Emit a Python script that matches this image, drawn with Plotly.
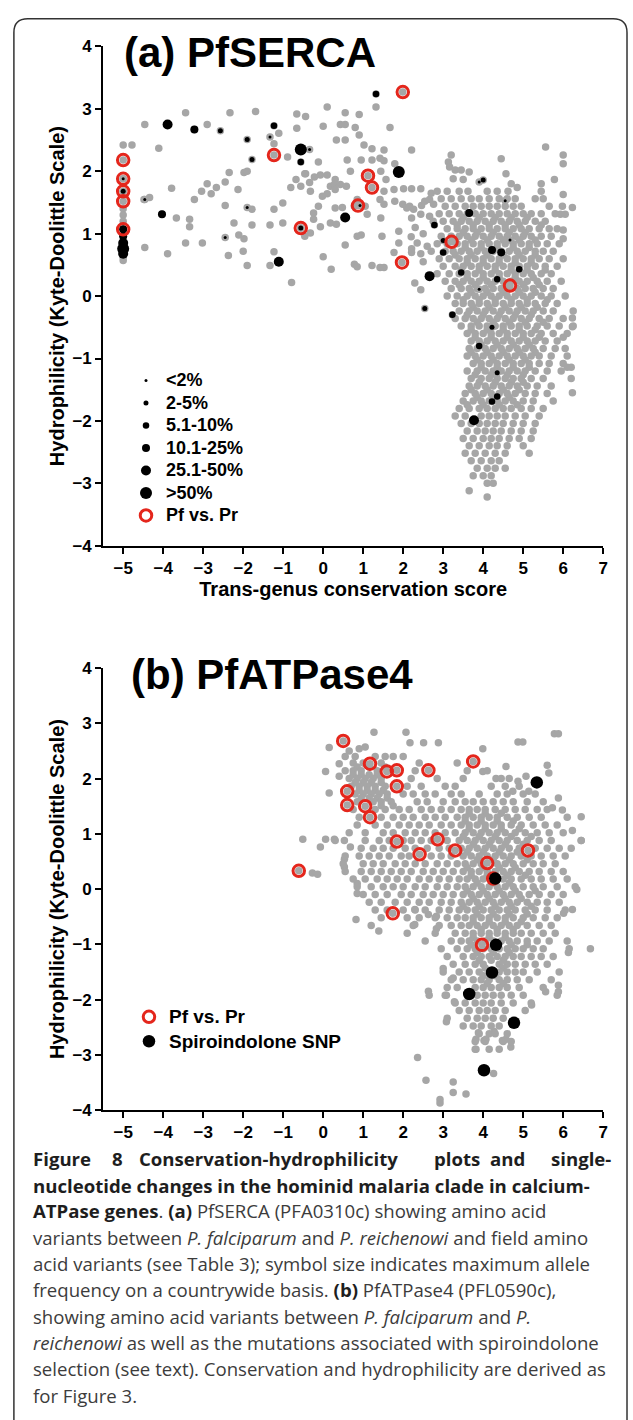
import plotly.graph_objects as go

W, H = 633, 1420
FONT = "Liberation Sans, Arial, sans-serif"
CAP = "Open Sans, Noto Sans, sans-serif"
GRAY = "#a6a6a6"
RED = "#e4261c"

# ---------------- Panel (a) PfSERCA ----------------
# scattered background residues (conservation, hydrophilicity)
a_bg_x = [-5.0, -4.78, -5.0, -5.0, -5.0, -5.0, -5.0,
          -4.46, -4.11, -4.48, -4.34, -3.79, -3.67, -3.34, -3.34, -3.44, -3.02, -4.46, -3.89, -3.44, -2.90,
          -2.33, -1.69, -0.66, -0.44, -1.11, -1.23, -0.66, -0.89, -0.44, -0.68, -0.81, -0.56, -0.34, -2.35,
          -1.98, -1.90, -2.45, -2.13, -2.90, -2.67, -2.80, -3.04, -3.22, -2.45, -1.78, -1.23, -1.01, -2.23,
          -1.78, -1.33, -1.01, -2.11, -1.98, -2.37, -2.00, -1.90, -1.33, -1.23, -0.79, -0.24,
          0.10, 1.32, 0.55, 0.90, 0.43, 0.55, 0.80, 0.00, 1.67, 0.90, 0.33, 0.55, 1.02, 1.22, 1.42, 1.52,
          2.21, -0.12, 0.60, 0.95, 1.22, 1.52, 1.79, -0.46, -0.22, -0.07, 0.10, 0.68, 0.30, 1.44, 1.57,
          0.18, 0.28, 0.43, 0.58, -0.02, 0.10, 0.30, -0.32, 1.52, 1.42, 1.52, 1.77, 2.01, 2.21, 2.44, 1.79,
          1.99, 2.09, -0.12, -0.24, 0.30, 0.48, 0.33, 0.18, -0.07, -0.32, -0.46, 0.85, 0.78, 1.05, 1.44,
          1.10, 0.95, 0.85, 0.55, 0.00, 0.20, 0.78, 0.85, 1.22, 1.42, 1.52, 1.47, 1.89, 1.77, 2.21, 2.44,
          2.21, 1.89, 2.16, 2.26, 2.46, 2.54, 2.66, 2.76, 2.21, 2.44, 2.66, 2.29, 2.44, 3.13, 3.20, 3.16,
          3.30, 3.45, 3.65, 3.25, 3.50, 4.45, 4.57, 5.56, 6.00, 6.00, 5.78, 6.00, 6.23, 5.98, 5.93, 6.05,
          6.00, 6.00, 2.30, 2.50, 2.60, 2.75, 2.50, 2.20, 2.70, 2.35, 6.23, 6.23, 6.20, 6.10, 6.23, 6.00,
          4.70, 4.85, 5.45]
a_bg_y = [2.42, 2.42, 1.40, 1.30, 1.20, 0.57, 0.62,
          2.75, 2.37, 1.55, 1.58, 1.73, 1.25, 1.23, 1.11, 0.85, 0.85, 0.78, 0.68, 2.94, 2.75,
          2.94, 2.96, 2.92, 2.88, 2.61, 2.44, 2.69, 2.23, 1.96, 1.87, 1.74, 1.76, 1.82, 1.98,
          1.98, 2.00, 1.83, 1.71, 1.80, 1.74, 1.64, 1.68, 1.55, 1.45, 1.39, 1.39, 1.49, 1.17,
          1.14, 1.14, 1.17, 0.98, 0.92, 0.65, 0.72, 0.49, 0.49, 0.71, 0.22, 1.23,
          3.03, 3.03, 2.94, 2.91, 2.75, 2.75, 2.70, 2.72, 2.70, 2.58, 2.50, 2.50, 2.42, 2.36, 2.21, 2.34,
          2.34, 2.15, 2.18, 2.18, 2.18, 2.17, 2.12, 1.96, 1.91, 1.94, 1.94, 2.00, 1.87, 2.00, 1.87,
          1.76, 1.79, 1.79, 1.76, 1.60, 1.64, 1.71, 1.68, 1.68, 1.55, 1.47, 1.71, 1.72, 1.72, 1.72, 1.52,
          1.47, 1.41, 1.44, 1.33, 1.41, 1.42, 1.15, 1.17, 1.11, 1.01, 0.96, 1.55, 1.44, 1.44, 1.25,
          1.31, 0.98, 0.96, 0.82, 0.63, 0.43, 0.51, 0.47, 0.49, 0.46, 0.46, 0.96, 1.04, 0.70, 0.76, 0.68,
          0.70, 0.85, 1.44, 1.39, 1.45, 1.52, 1.55, 1.47, 1.25, 1.31, 1.28, 0.21, 0.10, 2.15, 2.26, 2.07,
          2.02, 2.02, 1.99, 1.88, 1.87, 2.20, 1.96, 2.39, 2.26, 2.12, 1.87, 1.63, 1.42, 1.44, 1.31, 1.31,
          1.06, 0.92, 1.10, 1.00, 0.80, 1.20, 0.55, 0.95, 1.65, 0.85, -0.35, -0.49, -1.14, -1.14, -1.55, -0.66,
          1.80, 1.74, 1.80]

# dense cluster of conserved residues, read row by row: (hydrophilicity, [conservation scores])
a_rows = [
    (1.68, [2.85, 3.1, 3.4, 3.62, 4.1, 4.35, 4.62, 5.45]),
    (1.56, [2.95, 3.2, 3.45, 3.7, 3.9, 4.15, 4.4, 4.6, 4.8, 5.3, 5.5]),
    (1.44, [3.05, 3.3, 3.55, 3.75, 3.95, 4.15, 4.35, 4.55, 4.75, 4.95, 5.65]),
    (1.32, [2.9, 3.15, 3.4, 3.6, 3.8, 4.0, 4.2, 4.4, 4.6, 4.8, 5.0, 5.2, 5.45, 5.8]),
    (1.26, [3.5, 3.9, 4.3, 4.7, 5.1]),
    (1.20, [3.0, 3.25, 3.45, 3.65, 3.85, 4.05, 4.25, 4.45, 4.65, 4.85, 5.05, 5.3, 5.55]),
    (1.14, [3.35, 3.75, 4.15, 4.55, 4.9, 5.45]),
    (1.08, [3.1, 3.35, 3.55, 3.75, 3.95, 4.15, 4.35, 4.55, 4.75, 4.95, 5.15, 5.4, 5.65, 5.85]),
    (1.02, [3.5, 3.85, 4.25, 4.65, 5.05]),
    (0.96, [2.95, 3.2, 3.4, 3.6, 3.8, 4.0, 4.2, 4.4, 4.6, 4.8, 5.0, 5.2, 5.45, 5.7]),
    (0.90, [3.3, 3.7, 4.1, 4.5, 4.9, 5.3]),
    (0.84, [2.85, 3.1, 3.35, 3.55, 3.75, 3.95, 4.15, 4.35, 4.55, 4.75, 4.95, 5.15, 5.35, 5.6, 5.9]),
    (0.78, [3.55, 3.95, 4.35, 4.75, 5.15]),
    (0.72, [2.7, 3.05, 3.25, 3.45, 3.65, 3.85, 4.05, 4.25, 4.45, 4.65, 4.85, 5.05, 5.3, 5.5, 5.75]),
    (0.66, [3.3, 3.7, 4.1, 4.5, 4.9, 5.3]),
    (0.60, [2.9, 3.15, 3.4, 3.6, 3.8, 4.0, 4.2, 4.4, 4.6, 4.8, 5.0, 5.2, 5.4, 5.65, 6.0]),
    (0.54, [3.6, 4.0, 4.4, 4.8, 5.2]),
    (0.48, [3.0, 3.3, 3.5, 3.7, 3.9, 4.1, 4.3, 4.5, 4.7, 4.9, 5.1, 5.3, 5.55, 5.85]),
    (0.42, [3.45, 3.9, 4.3, 4.7, 5.1, 5.55]),
    (0.36, [2.85, 3.15, 3.4, 3.6, 3.8, 4.0, 4.2, 4.4, 4.6, 4.8, 5.0, 5.2, 5.45, 5.7]),
    (0.30, [3.6, 4.0, 4.4, 4.8, 5.25]),
    (0.24, [3.05, 3.3, 3.5, 3.7, 3.9, 4.1, 4.3, 4.5, 4.7, 4.9, 5.1, 5.35, 5.6, 5.95]),
    (0.18, [3.4, 3.8, 4.2, 4.6, 5.0, 5.4]),
    (0.12, [3.2, 3.45, 3.65, 3.85, 4.05, 4.25, 4.45, 4.65, 4.85, 5.05, 5.25, 5.5, 5.75]),
    (0.06, [3.7, 4.1, 4.5, 4.9, 5.3]),
    (0.00, [3.1, 3.35, 3.6, 3.8, 4.0, 4.2, 4.4, 4.6, 4.8, 5.0, 5.2, 5.45, 5.7, 6.05]),
    (-0.06, [3.5, 3.9, 4.3, 4.7, 5.1, 5.6]),
    (-0.12, [3.3, 3.5, 3.7, 3.9, 4.1, 4.3, 4.5, 4.7, 4.9, 5.1, 5.3, 5.55, 5.85]),
    (-0.18, [3.75, 4.15, 4.55, 4.95, 5.35]),
    (-0.24, [3.4, 3.65, 3.85, 4.05, 4.25, 4.45, 4.65, 4.85, 5.05, 5.25, 5.5, 5.75, 6.25]),
    (-0.30, [3.6, 4.0, 4.4, 4.8, 5.2]),
    (-0.36, [3.3, 3.55, 3.75, 3.95, 4.15, 4.35, 4.55, 4.75, 4.95, 5.15, 5.4, 5.65, 6.0]),
    (-0.42, [3.85, 4.25, 4.65, 5.05, 5.5]),
    (-0.48, [3.45, 3.7, 3.9, 4.1, 4.3, 4.5, 4.7, 4.9, 5.1, 5.35, 5.6, 5.9, 6.25]),
    (-0.54, [3.7, 4.1, 4.5, 4.9, 5.3]),
    (-0.60, [3.6, 3.8, 4.0, 4.2, 4.4, 4.6, 4.8, 5.0, 5.2, 5.45, 5.75, 6.1]),
    (-0.66, [3.8, 4.2, 4.6, 5.0, 5.4]),
    (-0.72, [3.7, 3.9, 4.1, 4.3, 4.5, 4.7, 4.9, 5.1, 5.3, 5.55, 5.85]),
    (-0.78, [3.95, 4.35, 4.75, 5.15]),
    (-0.84, [3.65, 3.85, 4.05, 4.25, 4.45, 4.65, 4.85, 5.05, 5.25, 5.5, 5.8, 6.05]),
    (-0.90, [3.7, 4.1, 4.5, 4.9, 5.3]),
    (-0.96, [3.6, 3.8, 4.0, 4.2, 4.4, 4.6, 4.8, 5.0, 5.2, 5.4, 5.7, 6.1]),
    (-1.02, [3.85, 4.25, 4.65, 5.05]),
    (-1.08, [3.75, 3.95, 4.15, 4.35, 4.55, 4.75, 4.95, 5.15, 5.4, 5.65, 6.0]),
    (-1.14, [3.95, 4.35, 4.75, 5.15]),
    (-1.20, [3.6, 3.85, 4.05, 4.25, 4.45, 4.65, 4.85, 5.05, 5.3, 5.6, 5.95]),
    (-1.26, [3.8, 4.2, 4.6, 5.0]),
    (-1.32, [3.7, 3.95, 4.15, 4.35, 4.55, 4.75, 4.95, 5.2, 5.5, 6.2]),
    (-1.38, [3.9, 4.3, 4.7, 5.0]),
    (-1.44, [3.65, 3.85, 4.05, 4.25, 4.45, 4.65, 4.85, 5.1, 5.35, 5.7]),
    (-1.50, [3.7, 4.1, 4.5, 4.9]),
    (-1.56, [3.55, 3.8, 4.0, 4.2, 4.4, 4.6, 4.8, 5.05, 5.3, 5.6]),
    (-1.62, [3.85, 4.25, 4.65]),
    (-1.68, [3.5, 3.75, 3.95, 4.15, 4.35, 4.55, 4.75, 5.0, 5.25, 5.75]),
    (-1.74, [3.6, 4.0, 4.4, 4.85]),
    (-1.80, [3.4, 3.65, 3.9, 4.1, 4.3, 4.5, 4.7, 4.95, 5.2, 5.5]),
    (-1.92, [3.3, 3.55, 3.95, 4.15, 4.35, 4.55, 4.8, 5.05, 5.4]),
    (-2.04, [3.45, 3.7, 3.9, 4.1, 4.3, 4.5, 4.75, 5.0, 5.3]),
    (-2.16, [3.6, 3.85, 4.05, 4.25, 4.45, 4.7, 4.95, 5.25]),
    (-2.28, [3.5, 3.75, 4.0, 4.2, 4.4, 4.65, 4.9, 5.2]),
    (-2.40, [3.65, 3.9, 4.15, 4.35, 4.6, 5.0]),
    (-2.52, [3.55, 3.8, 4.05, 4.3, 4.55, 5.15]),
    (-2.64, [3.7, 3.95, 4.2, 4.4]),
    (-2.76, [3.85, 4.1, 4.3, 4.55]),
    (-2.88, [3.75, 4.0, 4.2]),
    (-3.00, [4.1, 4.25]),
    (-3.12, [3.65]),
    (-3.22, [4.1]),
]

# field amino acid variants, with maximum countrywide allele frequency class
a_snp_x = [-5.0, -5.0, -5.0, -5.0, -5.0, -5.0, -5.0,
           -3.89, -3.22, -2.57, -1.90, -1.23, -1.33, -1.78, -0.56, -0.34, -0.56, -4.03, -4.46, -1.90,
           -2.45, -1.11, -0.56,
           1.32, 1.89, 0.55, 0.92, 3.90, 4.00, 3.65, 2.78, 3.00, 3.00, 4.22, 4.45, 4.67, 4.55, 3.45,
           2.66, 4.35, 4.90, 3.90, 2.54, 3.23, 4.22, 3.90, 4.35, 4.35, 4.22, 3.77]
a_snp_y = [1.88, 1.68, 1.07, 0.96, 0.85, 0.76, 0.68,
           2.75, 2.67, 2.65, 2.51, 2.73, 2.55, 2.19, 2.35, 2.35, 2.15, 1.31, 1.55, 1.42,
           0.94, 0.55, 1.09,
           3.24, 1.99, 1.26, 1.45, 1.83, 1.86, 1.33, 1.14, 0.89, 0.70, 0.74, 0.70, 0.90, 1.53, 0.38,
           0.32, 0.27, 0.43, 0.11, -0.20, -0.30, -0.50, -0.80, -1.23, -1.61, -1.69, -1.99]
a_snp_freq = ["<2%", "2-5%", "10.1-25%", "10.1-25%", "25.1-50%", ">50%", "25.1-50%",
              "25.1-50%", "10.1-25%", "2-5%", "2-5%", "5.1-10%", "<2%", "2-5%", ">50%", "<2%", "5.1-10%",
              "10.1-25%", "<2%", "<2%",
              "<2%", "25.1-50%", "2-5%",
              "5.1-10%", ">50%", "25.1-50%", "<2%", "<2%", "2-5%", "10.1-25%", "5.1-10%", "2-5%",
              "5.1-10%", "10.1-25%", "10.1-25%", "<2%", "<2%", "5.1-10%",
              "25.1-50%", "5.1-10%", "5.1-10%", "<2%", "2-5%", "5.1-10%", "2-5%", "5.1-10%", "2-5%",
              "5.1-10%", "5.1-10%", "25.1-50%"]
freq_classes = ["<2%", "2-5%", "5.1-10%", "10.1-25%", "25.1-50%", ">50%"]

# P. falciparum vs P. reichenowi differences
a_pfpr_x = [-5.0, -5.0, -5.0, -5.0, -5.0, -1.23, -0.56, 1.99, 1.12, 1.22, 0.87, 1.97, 3.21, 4.67]
a_pfpr_y = [2.18, 1.88, 1.68, 1.52, 1.07, 2.26, 1.09, 3.27, 1.93, 1.74, 1.45, 0.54, 0.87, 0.17]

# ---------------- Panel (b) PfATPase4 ----------------
b_bg_x = [0.15, 0.65, 0.90, 1.05, 1.27, 2.07, 2.17, 2.51, 2.88, 3.99, 4.87, 4.99, 5.78, 5.88, 0.40,
          0.06, 0.40, 0.15, 5.60, 5.64, 3.99, 4.32, 4.57, 4.87, 5.07, 5.14, 4.74, 5.88, 5.73, 5.98,
          6.45, 6.23, 6.45, 6.34, -0.51, -0.27, -0.14, -0.07, 0.06, 0.28, 0.53, 0.68, 0.53, 0.53,
          0.85, 0.85, 0.82, 1.39, 2.29, 2.29, 2.63, 2.83, 2.83, 2.63, 3.08, 3.00, 3.25, 3.28, 3.08,
          5.21, 5.56, 5.88, 5.88, 6.68, 6.13, 6.23, 6.01, 2.36, 2.57, 3.25, 3.25, 3.57, 2.92, 2.92,
          4.26, 4.00, 3.82, 4.02, 4.48, 4.69, 3.82, 3.88, 4.07, 4.27, 4.57]
b_bg_y = [2.56, 2.50, 2.54, 2.57, 2.84, 2.84, 2.65, 2.65, 2.65, 2.54, 2.66, 2.66, 2.81, 2.81, 2.27,
          2.13, 2.04, 1.74, 2.24, 2.10, 2.13, 2.00, 2.22, 1.95, 2.04, 1.77, 1.77, 1.65, 1.47, 1.43,
          1.31, 1.06, 0.88, -0.01, 0.90, 0.29, 0.27, 0.76, 0.90, 0.90, 0.88, 0.76, 0.54, 0.40,
          0.10, -0.08, -0.55, -0.76, -0.37, -0.64, -0.46, -0.49, -0.72, -1.85, -2.40, -1.44, -1.61, -2.04, -1.92,
          -2.10, -1.86, -1.74, -1.86, -1.08, -1.15, -0.37, -0.44, -3.05, -3.46, -3.49, -3.68, -3.71, -3.81, -3.87,
          -3.34, -3.30, -2.72, -2.74, -2.74, -2.86, -2.90, -2.60, -2.72, -2.58, -2.72]

b_rows = [
    (2.40, [0.55, 0.8, 1.3, 1.55, 1.75, 2.0]),
    (2.28, [0.75, 1.0, 1.45, 2.4, 3.35]),
    (2.21, [0.85, 1.15, 1.55]),
    (2.14, [0.55, 0.75, 0.95, 1.35, 2.3, 3.6, 4.1]),
    (2.07, [0.75, 0.95, 1.15, 1.35]),
    (2.00, [0.65, 0.85, 1.05, 1.25, 1.45, 2.2, 2.85, 3.5, 4.45, 4.65]),
    (1.93, [0.8, 1.0, 1.2, 1.45]),
    (1.86, [0.7, 0.9, 1.1, 1.3, 1.55, 2.1, 2.45, 3.05, 3.3, 4.2, 4.55, 4.9]),
    (1.79, [0.9, 1.1, 1.3, 1.5]),
    (1.72, [0.8, 1.0, 1.2, 1.4, 1.6, 2.0, 2.25, 2.55, 2.8, 3.2, 3.45, 3.9, 4.35, 4.6, 5.0, 5.3]),
    (1.65, [0.95, 1.15, 1.35, 1.6]),
    (1.58, [0.85, 1.25, 1.45, 1.7, 2.35, 2.6, 3.0, 3.3, 3.55, 3.75, 4.0, 4.25, 4.5, 4.75, 5.1, 5.5]),
    (1.51, [1.45, 1.75]),
    (1.44, [0.75, 1.3, 1.55, 1.9, 2.15, 2.45, 2.7, 2.95, 3.2, 3.45, 3.65, 3.85, 4.05, 4.3, 4.55, 4.8, 5.05, 5.35, 5.6]),
    (1.37, [3.65, 4.05, 4.45]),
    (1.30, [0.9, 1.45, 1.75, 2.0, 2.25, 2.55, 2.8, 3.05, 3.35, 3.55, 3.75, 3.95, 4.15, 4.35, 4.6, 4.85, 5.15, 5.45, 6.1]),
    (1.23, [3.55, 3.95, 4.35, 4.75]),
    (1.16, [0.85, 1.3, 1.6, 1.9, 2.15, 2.4, 2.65, 2.95, 3.2, 3.45, 3.65, 3.85, 4.05, 4.25, 4.45, 4.7, 4.95, 5.25, 5.55, 5.85]),
    (1.09, [3.65, 4.05, 4.45, 4.9]),
    (1.02, [0.65, 1.05, 1.5, 1.75, 2.05, 2.3, 2.55, 2.8, 3.05, 3.3, 3.55, 3.75, 3.95, 4.15, 4.35, 4.55, 4.8, 5.05, 5.35, 5.65, 6.0]),
    (0.95, [3.5, 3.9, 4.3, 4.7, 5.2]),
    (0.88, [0.3, 1.05, 1.4, 1.65, 2.0, 2.2, 2.45, 2.7, 3.1, 3.4, 3.6, 3.8, 4.0, 4.2, 4.4, 4.6, 4.85, 5.1, 5.4, 5.7, 6.45]),
    (0.81, [3.75, 4.15, 4.55, 5.0]),
    (0.74, [0.95, 1.25, 1.5, 1.75, 2.05, 2.3, 2.6, 2.9, 3.15, 3.45, 3.65, 3.85, 4.05, 4.25, 4.45, 4.65, 4.9, 5.3, 5.6, 5.9, 6.2]),
    (0.67, [3.6, 4.0, 4.4, 4.85]),
    (0.60, [0.55, 0.9, 1.15, 1.4, 1.65, 1.95, 2.15, 2.7, 2.95, 3.2, 3.5, 3.7, 3.9, 4.1, 4.3, 4.5, 4.7, 4.95, 5.2, 5.45, 5.75, 6.05]),
    (0.53, [3.85, 4.25, 4.65, 5.1]),
    (0.46, [0.5, 1.0, 1.25, 1.5, 1.8, 2.05, 2.3, 2.55, 2.85, 3.1, 3.35, 3.55, 3.75, 3.95, 4.35, 4.55, 4.75, 5.0, 5.25, 5.5, 5.8]),
    (0.39, [3.6, 4.0, 4.4, 4.8]),
    (0.32, [0.55, 0.95, 1.2, 1.45, 1.7, 1.95, 2.2, 2.5, 2.75, 3.0, 3.25, 3.5, 3.7, 3.9, 4.1, 4.3, 4.5, 4.7, 4.9, 5.15, 5.4, 5.7, 6.0]),
    (0.25, [3.7, 4.1, 4.6, 5.05]),
    (0.18, [0.75, 1.05, 1.35, 1.6, 1.85, 2.1, 2.4, 2.65, 2.9, 3.15, 3.4, 3.6, 3.8, 4.0, 4.5, 4.7, 4.95, 5.2, 5.45, 5.75, 6.1]),
    (0.11, [3.85, 4.25, 4.65]),
    (0.04, [0.85, 1.2, 1.5, 1.75, 2.0, 2.3, 2.55, 2.85, 3.1, 3.35, 3.55, 3.75, 3.95, 4.15, 4.35, 4.55, 4.75, 5.0, 5.25, 5.5, 5.85, 6.3]),
    (-0.03, [3.6, 4.0, 4.4, 4.8, 5.3]),
    (-0.10, [1.0, 1.3, 1.6, 1.95, 2.2, 2.5, 2.75, 3.0, 3.25, 3.5, 3.7, 3.9, 4.1, 4.3, 4.5, 4.7, 4.9, 5.15, 5.4, 5.7, 6.0]),
    (-0.17, [3.75, 4.15, 4.55, 4.95]),
    (-0.24, [1.15, 1.45, 1.8, 2.1, 2.4, 2.65, 2.95, 3.2, 3.45, 3.65, 3.85, 4.05, 4.25, 4.45, 4.65, 4.85, 5.1, 5.35, 5.6, 5.9]),
    (-0.31, [3.5, 3.9, 4.3, 4.7, 5.2]),
    (-0.38, [1.3, 1.6, 2.0, 2.3, 2.55, 2.9, 3.15, 3.4, 3.6, 3.8, 4.0, 4.2, 4.4, 4.6, 4.8, 5.05, 5.3, 5.6, 6.05]),
    (-0.45, [3.85, 4.25, 4.65, 5.1]),
    (-0.52, [1.45, 2.1, 2.4, 2.8, 3.1, 3.35, 3.55, 3.75, 3.95, 4.15, 4.35, 4.55, 4.75, 5.0, 5.25, 5.55, 5.85]),
    (-0.59, [3.75, 4.15, 4.55, 4.95]),
    (-0.66, [1.2, 2.25, 2.9, 3.2, 3.45, 3.65, 3.85, 4.05, 4.25, 4.45, 4.65, 4.85, 5.1, 5.4, 5.7]),
    (-0.73, [3.95, 4.35, 4.75]),
    (-0.80, [2.1, 2.8, 3.3, 3.55, 3.75, 3.95, 4.15, 4.35, 4.55, 4.75, 4.95, 5.2, 5.5, 5.8]),
    (-0.87, [3.75, 4.15, 4.55]),
    (-0.94, [2.55, 3.2, 3.45, 3.65, 3.85, 4.05, 4.25, 4.45, 4.65, 4.85, 5.1, 5.35, 5.65, 6.1]),
    (-1.01, [3.7, 4.7, 5.1]),
    (-1.08, [2.95, 3.35, 3.6, 3.8, 4.0, 4.2, 4.4, 4.6, 4.8, 5.0, 5.25, 5.5, 6.15]),
    (-1.15, [3.85, 4.25, 4.65]),
    (-1.22, [3.1, 3.5, 3.75, 3.95, 4.15, 4.35, 4.55, 4.75, 4.95, 5.2, 5.45, 5.75]),
    (-1.29, [3.9, 4.2, 4.5]),
    (-1.36, [3.25, 3.55, 3.8, 4.0, 4.4, 4.6, 4.8, 5.05, 5.3, 5.6]),
    (-1.43, [4.05, 4.5]),
    (-1.50, [3.0, 3.4, 3.65, 3.9, 4.4, 4.6, 4.8, 5.0, 5.35, 5.9]),
    (-1.57, [4.0, 4.3]),
    (-1.64, [3.2, 3.5, 3.75, 3.95, 4.15, 4.4, 4.6, 4.85, 5.15, 5.7]),
    (-1.71, [4.1, 4.5]),
    (-1.78, [3.1, 3.35, 3.8, 4.0, 4.2, 4.4, 4.6, 4.9, 5.5]),
    (-1.92, [2.65, 3.05, 3.85, 4.05, 4.25, 4.45, 4.7, 5.0, 5.85]),
    (-2.06, [3.3, 3.55, 3.8, 4.0, 4.2, 4.45, 4.75, 5.2]),
    (-2.20, [3.4, 3.65, 3.9, 4.1, 4.3, 4.55, 5.05]),
    (-2.34, [3.1, 3.6, 3.85, 4.05, 4.25, 4.5]),
    (-2.48, [3.5, 3.75, 3.95, 4.2, 4.4]),
    (-2.62, [3.9, 4.15, 4.3, 4.6]),
    (-2.76, [3.8, 4.05, 4.5, 4.7]),
    (-2.90, [3.8, 4.15, 4.4]),
]

b_pfpr_x = [-0.61, 0.50, 1.17, 1.59, 1.84, 1.84, 2.63, 3.75, 0.60, 0.60, 1.05, 1.17, 1.84, 2.86,
            2.41, 3.30, 4.10, 5.12, 1.74, 3.97, 4.25]
b_pfpr_y = [0.33, 2.68, 2.27, 2.13, 2.15, 1.86, 2.15, 2.31, 1.77, 1.52, 1.50, 1.30, 0.86, 0.90,
            0.63, 0.70, 0.47, 0.70, -0.44, -1.01, 0.19]

b_spiro_x = [5.34, 4.30, 4.32, 4.22, 3.65, 4.77, 4.02]
b_spiro_y = [1.93, 0.19, -1.01, -1.51, -1.90, -2.42, -3.28]


def flatten(rows):
    xs, ys = [], []
    for yv, row in rows:
        for xv in row:
            xs.append(xv)
            ys.append(yv)
    return xs, ys


a_row_x, a_row_y = flatten(a_rows)
b_row_x, b_row_y = flatten(b_rows)

fig = go.Figure()

# panel a: all residues in gray (variant residues also sit on a gray residue point)
fig.add_trace(go.Scatter(
    x=a_bg_x + a_row_x + a_snp_x + a_pfpr_x, y=a_bg_y + a_row_y + a_snp_y + a_pfpr_y,
    mode="markers", marker=dict(color=GRAY, size=7.5), showlegend=False, hoverinfo="skip",
    xaxis="x", yaxis="y"))

class_size = {"<2%": 3, "2-5%": 5, "5.1-10%": 6.5, "10.1-25%": 8, "25.1-50%": 10, ">50%": 12}
class_label = {"<2%": "&lt;2%", "2-5%": "2-5%", "5.1-10%": "5.1-10%", "10.1-25%": "10.1-25%",
               "25.1-50%": "25.1-50%", ">50%": "&gt;50%"}
for cls in freq_classes:
    xs = [x for x, f in zip(a_snp_x, a_snp_freq) if f == cls]
    ys = [y for y, f in zip(a_snp_y, a_snp_freq) if f == cls]
    fig.add_trace(go.Scatter(
        x=xs, y=ys, mode="markers", marker=dict(color="black", size=class_size[cls]),
        name='<span style="font-size:18px">%s</span>' % class_label[cls],
        legend="legend", xaxis="x", yaxis="y", hoverinfo="skip"))

fig.add_trace(go.Scatter(
    x=a_pfpr_x, y=a_pfpr_y, mode="markers",
    marker=dict(color="rgba(0,0,0,0)", size=11.5, line=dict(color=RED, width=3)),
    name='<span style="font-size:18px">Pf vs. Pr</span>', legend="legend",
    xaxis="x", yaxis="y", hoverinfo="skip"))

# panel b
fig.add_trace(go.Scatter(
    x=b_bg_x + b_row_x + b_pfpr_x + b_spiro_x, y=b_bg_y + b_row_y + b_pfpr_y + b_spiro_y,
    mode="markers", marker=dict(color=GRAY, size=7.5), showlegend=False, hoverinfo="skip",
    xaxis="x2", yaxis="y2"))
fig.add_trace(go.Scatter(
    x=b_pfpr_x, y=b_pfpr_y, mode="markers",
    marker=dict(color="rgba(0,0,0,0)", size=11.5, line=dict(color=RED, width=3)),
    name='<span style="font-size:19px">Pf vs. Pr</span>', legend="legend2",
    xaxis="x2", yaxis="y2", hoverinfo="skip"))
fig.add_trace(go.Scatter(
    x=b_spiro_x, y=b_spiro_y, mode="markers", marker=dict(color="black", size=12.5),
    name='<span style="font-size:19px">Spiroindolone SNP</span>', legend="legend2",
    xaxis="x2", yaxis="y2", hoverinfo="skip"))


def px(v):
    return v / W


def py(v):
    return 1 - v / H


tickfont = dict(family=FONT, size=17, color="black", weight="bold")
axis_common = dict(showline=True, linecolor="black", linewidth=2, ticks="outside", ticklen=6,
                   tickwidth=2, tickcolor="black", showgrid=False, zeroline=False, dtick=1,
                   tick0=0, tickfont=tickfont, fixedrange=True)
title_font = dict(family=FONT, size=20, color="black", weight="bold")

fig.update_layout(
    width=W, height=H, margin=dict(l=0, r=0, t=0, b=0),
    paper_bgcolor="white", plot_bgcolor="white",
    xaxis=dict(domain=[px(104), px(608)], range=[-5.5, 7], anchor="y",
               title=dict(text="Trans-genus conservation score", font=title_font, standoff=2),
               **axis_common),
    yaxis=dict(domain=[py(544), py(38)], range=[-4, 4], anchor="x",
               title=dict(text="Hydrophilicity (Kyte-Doolittle Scale)", font=title_font, standoff=2),
               **axis_common),
    xaxis2=dict(domain=[px(104), px(608)], range=[-5.5, 7], anchor="y2", **axis_common),
    yaxis2=dict(domain=[py(1116), py(668)], range=[-4, 4], anchor="x2",
                title=dict(text="Hydrophilicity (Kyte-Doolittle Scale)", font=title_font, standoff=2),
                **axis_common),
    legend=dict(x=px(127), y=py(360), xanchor="left", yanchor="top", bgcolor="rgba(0,0,0,0)",
                font=dict(family=FONT, size=15, color="black", weight="bold"),
                itemsizing="trace", tracegroupgap=0),
    legend2=dict(x=px(130), y=py(1004), xanchor="left", yanchor="top", bgcolor="rgba(0,0,0,0)",
                 font=dict(family=FONT, size=16.5, color="black", weight="bold"),
                 itemsizing="trace", tracegroupgap=0),
    showlegend=True,
)

annotations = [
    dict(text="(a) PfSERCA", x=px(123), y=py(44), xanchor="left", yanchor="middle",
         font=dict(family=FONT, size=42, color="black", weight="bold")),
    dict(text="(b) PfATPase4", x=px(130), y=py(675), xanchor="left", yanchor="middle",
         font=dict(family=FONT, size=42, color="black", weight="bold")),
]

BOLD_C = "#1e1e1e"
REG_C = "#3c3c3c"
CAP_SIZE = 18.6
cap_font = dict(family=CAP, size=CAP_SIZE, color=REG_C)
for xw, word in [(31, "Figure"), (111, "8"), (138, "Conservation-hydrophilicity"),
                 (435, "plots"), (492, "and"), (553, "single-")]:
    annotations.append(dict(text="<b>%s</b>" % word, x=px(xw), y=py(1165), xanchor="left",
                            yanchor="middle", font=dict(family=CAP, size=CAP_SIZE, color=BOLD_C)))

bs = '<span style="color:%s"><b>' % BOLD_C
be = '</b></span>'
cap_lines = [
    (1192, bs + "nucleotide changes in the hominid malaria clade in calcium-" + be),
    (1218, bs + "ATPase genes" + be + ". " + bs + "(a)" + be + " PfSERCA (PFA0310c) showing amino acid"),
    (1245, "variants between <i>P. falciparum</i> and <i>P. reichenowi</i> and field amino"),
    (1272, "acid variants (see Table 3); symbol size indicates maximum allele"),
    (1298, "frequency on a countrywide basis. " + bs + "(b)" + be + " PfATPase4 (PFL0590c),"),
    (1325, "showing amino acid variants between <i>P. falciparum</i> and <i>P.</i>"),
    (1352, "<i>reichenowi</i> as well as the mutations associated with spiroindolone"),
    (1378, "selection (see text). Conservation and hydrophilicity are derived as"),
    (1405, "for Figure 3."),
]
for yl, txt in cap_lines:
    annotations.append(dict(text=txt, x=px(31), y=py(yl), xanchor="left", yanchor="middle",
                            font=cap_font))

for a in annotations:
    a.update(xref="paper", yref="paper", showarrow=False)
fig.update_layout(annotations=annotations)


def P(xp, yp):
    return "%.5f,%.5f" % (px(xp), py(yp))


border = ("M " + P(14, 1440) + " L " + P(14, 24) + " Q " + P(14, 10) + " " + P(28, 10) +
          " L " + P(618, 10) + " Q " + P(632, 10) + " " + P(632, 24) + " L " + P(632, 1440))
fig.update_layout(shapes=[dict(type="path", path=border, xref="paper", yref="paper",
                               line=dict(color="#333333", width=1.5))])

fig.write_html("out.html")
